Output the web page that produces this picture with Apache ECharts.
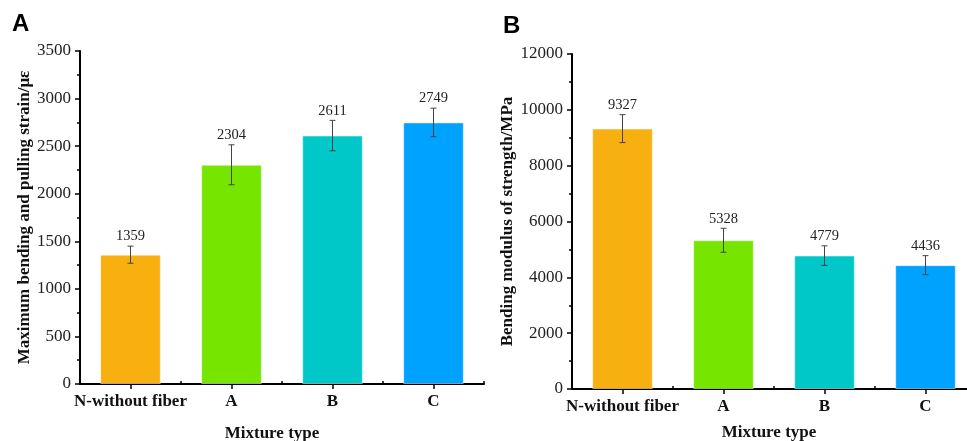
<!DOCTYPE html>
<html>
<head>
<meta charset="utf-8">
<script src="https://cdn.jsdelivr.net/npm/echarts@6/dist/echarts.min.js"></script>
<style>
html,body{margin:0;padding:0;background:#fff;}
#chart{width:967px;height:441px;}
</style>
</head>
<body>
<div id="chart"></div>
<script>
const categories = ['N-without fiber', 'A', 'B', 'C'];
const barColors = ['#F8B010', '#76E600', '#00C8C8', '#00A2FF'];
const strainValues = [1359, 2304, 2611, 2749];
const strainErrors = [90, 210, 160, 150];
const modulusValues = [9327, 5328, 4779, 4436];
const modulusErrors = [500, 430, 350, 340];

const serif = 'Liberation Serif';

function barData(vals) {
  return vals.map((v, i) => ({ value: v, itemStyle: { color: barColors[i],
    borderColor: 'rgba(255,255,255,0.45)', borderWidth: 1 } }));
}
function errData(vals, errs) {
  return vals.map((v, i) => [i, v - errs[i], v + errs[i], v]);
}
function renderErr(params, api) {
  const x = api.value(0);
  const lo = api.coord([x, api.value(1)]);
  const hi = api.coord([x, api.value(2)]);
  const cap = 3;
  const style = { stroke: '#444', lineWidth: 1 };
  return {
    type: 'group',
    children: [
      { type: 'line', shape: { x1: hi[0], y1: hi[1], x2: lo[0], y2: lo[1] }, style },
      { type: 'line', shape: { x1: hi[0] - cap, y1: hi[1], x2: hi[0] + cap, y2: hi[1] }, style },
      { type: 'line', shape: { x1: lo[0] - cap, y1: lo[1], x2: lo[0] + cap, y2: lo[1] }, style },
      { type: 'text', x: hi[0], y: hi[1] - 2, style: {
          text: String(api.value(3)), fill: '#222', font: '14.5px "Liberation Serif"',
          textAlign: 'center', textVerticalAlign: 'bottom' } }
    ]
  };
}

function catAxis(grid, name, nameGap, shift) {
  return [{
    type: 'category', gridIndex: grid, data: categories,
    name: name, nameLocation: 'middle', nameGap: nameGap,
    nameTextStyle: { fontFamily: serif, fontWeight: 'bold', fontSize: 17, color: '#111',
                     padding: [0, shift, 0, 0] },
    axisLine: { show: true, onZero: false, lineStyle: { color: '#000', width: 2 } },
    axisTick: { show: true, alignWithLabel: true, length: 5, lineStyle: { color: '#000', width: 1.5 } },
    axisLabel: { fontFamily: serif, fontWeight: 'bold', fontSize: 17, color: '#111', margin: 9, interval: 0 },
    splitLine: { show: false }
  }, {
    type: 'category', gridIndex: grid, data: categories,
    axisLine: { show: false },
    axisTick: { show: true, length: 3, lineStyle: { color: '#000', width: 1.5 } },
    axisLabel: { show: false },
    splitLine: { show: false }
  }];
}
function valAxis(grid, name, max, interval, nameGap) {
  return {
    type: 'value', gridIndex: grid, min: 0, max: max, interval: interval,
    name: name, nameLocation: 'middle', nameGap: nameGap,
    nameTextStyle: { fontFamily: serif, fontWeight: 'bold', fontSize: 17, color: '#111' },
    axisLine: { show: true, lineStyle: { color: '#000', width: 2 } },
    axisTick: { show: true, length: 5, lineStyle: { color: '#000', width: 1.5 } },
    minorTick: { show: true, splitNumber: 2, length: 3, lineStyle: { color: '#000', width: 1.5 } },
    axisLabel: { fontFamily: serif, fontSize: 17, color: '#222', margin: 9, formatter: v => String(v) },
    splitLine: { show: false }
  };
}

const chart = echarts.init(document.getElementById('chart'), null, { renderer: 'canvas' });
chart.setOption({
  animation: false,
  backgroundColor: '#fff',
  grid: [
    { left: 80, right: 483, top: 51, bottom: 57, containLabel: false, outerBoundsMode: 'none' },
    { left: 572, right: -9, top: 54, bottom: 52, containLabel: false, outerBoundsMode: 'none' }
  ],
  xAxis: [
    ...catAxis(0, 'Mixture type', 41, 20),
    ...catAxis(1, 'Mixture type', 35, 10)
  ],
  yAxis: [
    valAxis(0, 'Maximum bending and pulling strain/\u03bc\u03b5', 3500, 500, 43),
    valAxis(1, 'Bending modulus of strength/MPa', 12000, 2000, 52)
  ],
  graphic: [
    { type: 'text', left: 12, top: 12, style: { text: 'A', font: 'bold 24px "Liberation Sans"', fill: '#000' } },
    { type: 'text', left: 503, top: 14, style: { text: 'B', font: 'bold 24px "Liberation Sans"', fill: '#000' } }
  ],
  series: [
    { type: 'bar', xAxisIndex: 0, yAxisIndex: 0, barWidth: '60%', data: barData(strainValues) },
    { type: 'custom', xAxisIndex: 0, yAxisIndex: 0, renderItem: renderErr, data: errData(strainValues, strainErrors), z: 5 },
    { type: 'bar', xAxisIndex: 2, yAxisIndex: 1, barWidth: '60%', data: barData(modulusValues) },
    { type: 'custom', xAxisIndex: 2, yAxisIndex: 1, renderItem: renderErr, data: errData(modulusValues, modulusErrors), z: 5 }
  ]
});
</script>
</body>
</html>
